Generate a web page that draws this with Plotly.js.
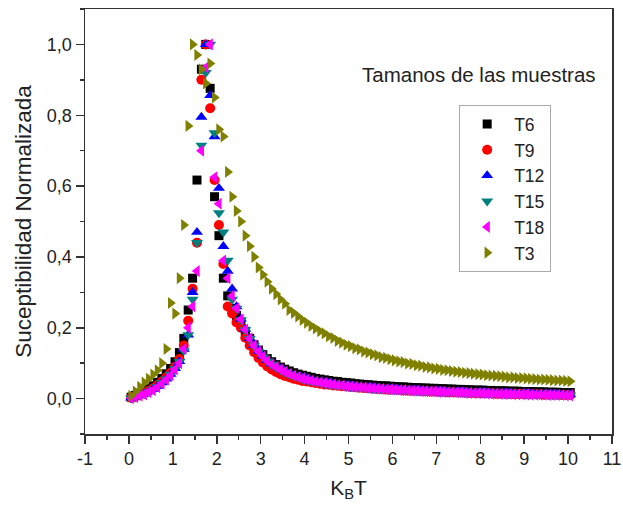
<!DOCTYPE html>
<html>
<head>
<meta charset="utf-8">
<script src="https://cdn.plot.ly/plotly-3.0.1.min.js"></script>
<style>
  html, body { margin: 0; padding: 0; background: #fff; }
  #chart { width: 623px; height: 510px; }
</style>
</head>
<body>
<div id="chart"></div>
<script>
// Temperature grid (k_B T)
const kbT = [0.05,0.15,0.25,0.35,0.45,0.55,0.65,0.75,0.85,0.95,
  1.05,1.15,1.25,1.35,1.45,1.55,1.65,1.75,1.85,1.95,
  2.05,2.15,2.25,2.35,2.45,2.55,2.65,2.75,2.85,2.95,
  3.05,3.15,3.25,3.35,3.45,3.55,3.65,3.75,3.85,3.95,
  4.05,4.15,4.25,4.35,4.45,4.55,4.65,4.75,4.85,4.95,
  5.05,5.15,5.25,5.35,5.45,5.55,5.65,5.75,5.85,5.95,
  6.05,6.15,6.25,6.35,6.45,6.55,6.65,6.75,6.85,6.95,
  7.05,7.15,7.25,7.35,7.45,7.55,7.65,7.75,7.85,7.95,
  8.05,8.15,8.25,8.35,8.45,8.55,8.65,8.75,8.85,8.95,
  9.05,9.15,9.25,9.35,9.45,9.55,9.65,9.75,9.85,9.95,10.05];

// Normalized susceptibility for each lattice size
const t6 = [0.004,0.009,0.015,0.021,0.028,0.036,0.046,0.057,0.07,0.085,0.104,0.13,
  0.17,0.25,0.34,0.617,0.93,1.0,0.876,0.57,0.46,0.34,0.29,0.255,0.235,
  0.215,0.19,0.17,0.152,0.137,0.124,0.113,0.104,0.096,0.089,0.083,0.078,0.073,0.069,0.066,
  0.063,0.06,0.057,0.055,0.053,0.051,0.049,0.048,0.046,0.045,
  0.044,0.042,0.041,0.04,0.039,0.038,0.037,0.036,0.036,0.035,
  0.034,0.033,0.033,0.032,0.031,0.031,0.03,0.03,0.029,0.029,
  0.028,0.028,0.027,0.027,0.026,0.026,0.025,0.025,0.024,0.024,
  0.024,0.023,0.023,0.022,0.022,0.022,0.021,0.021,0.021,0.02,
  0.02,0.02,0.019,0.019,0.019,0.018,0.018,0.018,0.017,0.017,0.017];

const t9 = [0.002,0.006,0.011,0.016,0.022,0.029,0.038,0.048,0.06,0.073,0.09,0.112,
  0.15,0.22,0.31,0.44,0.9,1.0,0.82,0.617,0.49,0.38,0.26,0.24,0.215,
  0.2,0.172,0.15,0.131,0.115,0.102,0.091,0.082,0.075,0.069,0.064,0.06,0.056,0.053,0.05,
  0.048,0.046,0.044,0.042,0.04,0.039,0.037,0.036,0.035,0.034,
  0.033,0.032,0.031,0.03,0.029,0.028,0.027,0.027,0.026,0.025,
  0.025,0.024,0.023,0.023,0.022,0.022,0.021,0.021,0.02,0.02,
  0.019,0.019,0.018,0.018,0.018,0.017,0.017,0.016,0.016,0.016,
  0.015,0.015,0.015,0.014,0.014,0.014,0.013,0.013,0.013,0.013,
  0.012,0.012,0.012,0.012,0.011,0.011,0.011,0.011,0.01,0.01,0.01];

const t12 = [0.002,0.005,0.009,0.014,0.02,0.027,0.035,0.045,0.056,0.069,0.085,0.105,
  0.14,0.18,0.3,0.47,0.795,1.0,0.856,0.74,0.594,0.43,0.36,0.31,0.26,
  0.225,0.196,0.171,0.151,0.134,0.12,0.108,0.098,0.09,0.083,0.077,0.071,0.066,0.062,0.058,
  0.055,0.052,0.049,0.047,0.045,0.043,0.041,0.039,0.038,0.036,
  0.035,0.034,0.033,0.032,0.031,0.03,0.029,0.028,0.028,0.027,
  0.026,0.026,0.025,0.024,0.024,0.023,0.023,0.022,0.022,0.021,
  0.021,0.02,0.02,0.019,0.019,0.019,0.018,0.018,0.017,0.017,
  0.017,0.016,0.016,0.016,0.015,0.015,0.015,0.014,0.014,0.014,
  0.014,0.013,0.013,0.013,0.013,0.012,0.012,0.012,0.012,0.011,0.011];

const t15 = [0.001,0.004,0.008,0.013,0.019,0.026,0.034,0.044,0.055,0.068,0.084,0.104,
  0.135,0.18,0.28,0.44,0.715,0.92,1.0,0.75,0.524,0.47,0.39,0.28,0.255,
  0.222,0.194,0.169,0.149,0.132,0.118,0.106,0.096,0.088,0.081,0.075,0.069,0.064,0.06,0.056,
  0.053,0.05,0.047,0.045,0.043,0.041,0.039,0.037,0.036,0.034,
  0.033,0.032,0.031,0.03,0.029,0.028,0.027,0.026,0.026,0.025,
  0.024,0.024,0.023,0.022,0.022,0.021,0.021,0.02,0.02,0.019,
  0.019,0.018,0.018,0.018,0.017,0.017,0.016,0.016,0.016,0.015,
  0.015,0.015,0.014,0.014,0.014,0.013,0.013,0.013,0.013,0.012,
  0.012,0.012,0.012,0.011,0.011,0.011,0.011,0.01,0.01,0.01,0.01];

const t18 = [0.001,0.004,0.008,0.012,0.018,0.024,0.032,0.042,0.053,0.066,0.082,0.1,
  0.14,0.2,0.26,0.36,0.7,0.935,1.0,0.625,0.55,0.39,0.34,0.29,0.255,
  0.224,0.195,0.17,0.15,0.133,0.119,0.107,0.097,0.089,0.082,0.076,0.07,0.065,0.061,0.057,
  0.054,0.051,0.048,0.046,0.044,0.042,0.04,0.038,0.037,0.035,
  0.034,0.033,0.032,0.031,0.03,0.029,0.028,0.027,0.026,0.026,
  0.025,0.024,0.024,0.023,0.022,0.022,0.021,0.021,0.02,0.02,
  0.019,0.019,0.018,0.018,0.017,0.017,0.016,0.016,0.015,0.015,
  0.015,0.014,0.014,0.014,0.013,0.013,0.013,0.012,0.012,0.012,
  0.012,0.011,0.011,0.011,0.011,0.01,0.01,0.01,0.01,0.009,0.009];

const t3 = [0.008,0.02,0.033,0.045,0.056,0.068,0.08,0.1,0.14,0.27,0.24,0.34,
  0.49,0.77,1.0,0.97,0.93,0.89,0.946,0.85,0.76,0.74,0.64,0.57,0.53,
  0.5,0.46,0.43,0.4,0.37,0.35,0.33,0.31,0.295,0.28,0.268,0.25,0.242,0.232,0.222,
  0.214,0.205,0.198,0.19,0.184,0.176,0.171,0.163,0.158,0.152,
  0.148,0.142,0.139,0.133,0.13,0.125,0.122,0.117,0.115,0.111,
  0.108,0.105,0.103,0.099,0.098,0.094,0.093,0.089,0.088,0.085,
  0.084,0.081,0.08,0.078,0.076,0.075,0.073,0.072,0.07,0.069,
  0.068,0.066,0.065,0.064,0.063,0.062,0.06,0.06,0.058,0.058,
  0.057,0.056,0.055,0.054,0.054,0.053,0.052,0.051,0.051,0.05,0.049];

const seriesNames = ["T6", "T9", "T12", "T15", "T18", "T3"];
const seriesValues = [t6, t9, t12, t15, t18, t3];

const xTickVals = [-1,0,1,2,3,4,5,6,7,8,9,10,11];
const xTickText = ["-1","0","1","2","3","4","5","6","7","8","9","10","11"];
const yTickVals = [0,0.2,0.4,0.6,0.8,1.0];
const yTickText = ["0,0","0,2","0,4","0,6","0,8","1,0"];

const styles = [
  {symbol: "square",         color: "#000000", size: 9},
  {symbol: "circle",         color: "#ff0000", size: 10},
  {symbol: "triangle-up",    color: "#0000ff", size: 10.5},
  {symbol: "triangle-down",  color: "#008080", size: 10.5},
  {symbol: "triangle-left",  color: "#ff00ff", size: 10.5},
  {symbol: "triangle-right", color: "#808000", size: 10.5}
];

const FONT = "Liberation Sans, Arial, sans-serif";

const traces = seriesNames.map((name, i) => ({
  type: "scatter",
  mode: "markers",
  name: name,
  x: kbT,
  y: seriesValues[i],
  marker: {symbol: styles[i].symbol, color: styles[i].color, size: styles[i].size, line: {width: 0}}
}));

const axisCommon = {
  showgrid: false,
  zeroline: false,
  showline: true,
  mirror: true,
  linecolor: "#333",
  linewidth: 1.5,
  ticks: "outside",
  ticklen: 8,
  tickwidth: 1.5,
  tickcolor: "#333",
  tickfont: {family: FONT, size: 18, color: "#222"}
};

const layout = {
  width: 623,
  height: 510,
  margin: {l: 85, r: 11, t: 9, b: 76},
  paper_bgcolor: "#fff",
  plot_bgcolor: "#fff",
  showlegend: true,
  xaxis: Object.assign({}, axisCommon, {
    range: [-1, 11],
    tickmode: "array",
    tickvals: xTickVals,
    ticktext: xTickText,
    minor: {dtick: 0.5, tick0: 0, ticks: "outside", ticklen: 4, tickwidth: 1.5, tickcolor: "#333"},
    title: {text: "K<sub>B</sub>T", font: {family: FONT, size: 21, color: "#222"}, standoff: 12}
  }),
  yaxis: Object.assign({}, axisCommon, {
    range: [-0.1, 1.1],
    tickmode: "array",
    tickvals: yTickVals,
    ticktext: yTickText,
    minor: {dtick: 0.1, tick0: 0, ticks: "outside", ticklen: 4, tickwidth: 1.5, tickcolor: "#333"},
    title: {text: "Suceptibilidad Normalizada", font: {family: FONT, size: 22.5, color: "#222"}, standoff: 9}
  }),
  legend: {
    x: 0.71, y: 0.774, xanchor: "left", yanchor: "top",
    bgcolor: "#fff",
    bordercolor: "#aaa",
    borderwidth: 1,
    font: {family: FONT, size: 17.5, color: "#222"},
    itemwidth: 44
  },
  annotations: [{
    text: "Tamanos de las muestras",
    xref: "paper", yref: "paper",
    x: 0.7476, y: 0.845, xanchor: "center", yanchor: "middle",
    showarrow: false,
    font: {family: FONT, size: 20.5, color: "#222"}
  }]
};

Plotly.newPlot("chart", traces, layout, {displayModeBar: false, staticPlot: true});
</script>
</body>
</html>
